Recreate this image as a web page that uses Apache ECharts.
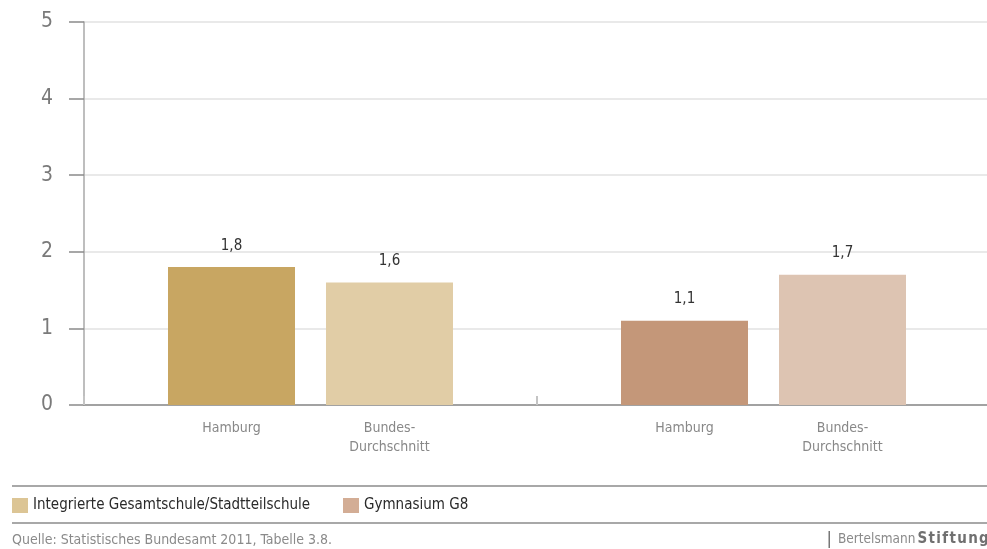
<!DOCTYPE html>
<html>
<head>
<meta charset="utf-8">
<script src="https://cdn.jsdelivr.net/npm/echarts@6/dist/echarts.min.js"></script>
<style>
  html, body { margin: 0; padding: 0; background: #fff; }
  #chart { width: 987px; height: 549px; }
</style>
</head>
<body>
<div id="chart"></div>
<script>
// School types (groups along the x axis)
const schoolTypes = ['Integrierte Gesamtschule/Stadtteilschule', 'Gymnasium G8'];
// Values per group: Hamburg and national average
const hamburgValues = [1.8, 1.1];
const bundValues = [1.6, 1.7];
// Bar captions shown under the axis
const barCaptions = ['Hamburg', 'Bundes-\nDurchschnitt'];
// Y axis range
const yMin = 0, yMax = 5, yStep = 1;
// Colours: per school type, darker for Hamburg, lighter for the average
const hamburgColors = ['#c8a662', '#c49779'];
const bundColors = ['#e1cda6', '#ddc4b2'];
const legendColors = ['#d3b67a', '#c8997a'];
const sourceText = 'Quelle: Statistisches Bundesamt 2011, Tabelle 3.8.';

const FONT = '"DejaVu Sans Condensed", "Liberation Sans", sans-serif';
const fmt = v => String(v).replace('.', ',');
const spaced = s => s.split('').join('\u200A');

const BAR_W = 127;
const BAR_GAP = '24.4%';

function coloured(values, colors) {
  return values.map((v, i) => ({ value: v, itemStyle: { color: colors[i] } }));
}

const chart = echarts.init(document.getElementById('chart'), null, { renderer: 'canvas' });

const valueLabel = {
  show: true,
  position: 'top',
  distance: 14,
  fontFamily: FONT,
  fontSize: 15,
  color: '#333',
  formatter: p => fmt(p.value)
};

const captionSeries = (caption, values) => ({
  type: 'bar',
  xAxisIndex: 1,
  barWidth: BAR_W,
  barGap: BAR_GAP,
  silent: true,
  z: 1,
  itemStyle: { color: 'rgba(0,0,0,0)' },
  data: values,
  label: {
    show: true,
    position: ['50%', '100%'],
    align: 'center',
    verticalAlign: 'top',
    offset: [0, 14],
    fontFamily: FONT,
    fontSize: 14,
    lineHeight: 19,
    color: '#888',
    formatter: () => caption
  }
});

const legendBase = {
  top: 498, icon: 'rect', itemWidth: 16, itemHeight: 15, itemGap: 0, padding: 0,
  selectedMode: false,
  textStyle: { fontFamily: FONT, fontSize: 15, color: '#2a2a2a', padding: [1, 0, 0, 0] }
};

chart.setOption({
  animation: false,
  backgroundColor: '#fff',
  grid: { left: 84, top: 22, width: 906, height: 383, containLabel: false, outerBoundsMode: 'none' },
  xAxis: [
    {
      type: 'category',
      data: schoolTypes,
      boundaryGap: true,
      axisLine: { lineStyle: { color: '#8a8a8a', width: 1.5 } },
      axisTick: { show: true, inside: true, length: 9, lineStyle: { color: '#c4c4c4', width: 2 } },
      axisLabel: { show: false },
      splitLine: { show: false }
    },
    {
      type: 'category',
      data: schoolTypes,
      show: false
    }
  ],
  yAxis: {
    type: 'value',
    min: yMin,
    max: yMax,
    interval: yStep,
    axisLine: { show: true, lineStyle: { color: '#a8a8a8', width: 1.5 } },
    axisTick: { show: true, length: 15, lineStyle: { color: '#8a8a8a', width: 1.5 } },
    axisLabel: { margin: 31, fontFamily: FONT, fontSize: 21, color: '#7a7a7a' },
    splitLine: { lineStyle: { color: '#e2e2e2', width: 1.5 } }
  },
  legend: [
    Object.assign({}, legendBase, { left: 12, data: [schoolTypes[0]] }),
    Object.assign({}, legendBase, { left: 343, data: [schoolTypes[1]] })
  ],
  series: [
    {
      name: 'Hamburg',
      type: 'bar',
      xAxisIndex: 0,
      barWidth: BAR_W,
      barGap: BAR_GAP,
      z: 3,
      data: coloured(hamburgValues, hamburgColors),
      label: valueLabel
    },
    {
      name: 'Bundes-Durchschnitt',
      type: 'bar',
      xAxisIndex: 0,
      barWidth: BAR_W,
      barGap: BAR_GAP,
      z: 3,
      data: coloured(bundValues, bundColors),
      label: valueLabel
    },
    captionSeries(barCaptions[0], hamburgValues),
    captionSeries(barCaptions[1], bundValues),
    // legend entries for the two school types
    { name: schoolTypes[0], type: 'scatter', data: [], itemStyle: { color: legendColors[0] } },
    { name: schoolTypes[1], type: 'scatter', data: [], itemStyle: { color: legendColors[1] } }
  ],
  graphic: [
    { type: 'line', shape: { x1: 12, y1: 486, x2: 987, y2: 486 }, style: { stroke: '#a8a8a8', lineWidth: 2 } },
    { type: 'line', shape: { x1: 12, y1: 523, x2: 987, y2: 523 }, style: { stroke: '#a8a8a8', lineWidth: 2 } },
    {
      type: 'text', x: 12, y: 533,
      style: { text: sourceText, font: '14px ' + FONT, fill: '#8a8a8a' }
    },
    { type: 'rect', shape: { x: 828.5, y: 531, width: 1.5, height: 17 }, style: { fill: '#777' } },
    {
      type: 'text', x: 838, y: 532,
      style: {
        text: '{a|Bertelsmann}{b|' + spaced('Stiftung') + '}',
        rich: {
          a: { fontFamily: FONT, fontSize: 13.5, fill: '#8a8a8a' },
          b: { fontFamily: FONT, fontSize: 15, fontWeight: 'bold', fill: '#707070', padding: [0, 0, 0, 2] }
        }
      }
    }
  ]
});
</script>
</body>
</html>
